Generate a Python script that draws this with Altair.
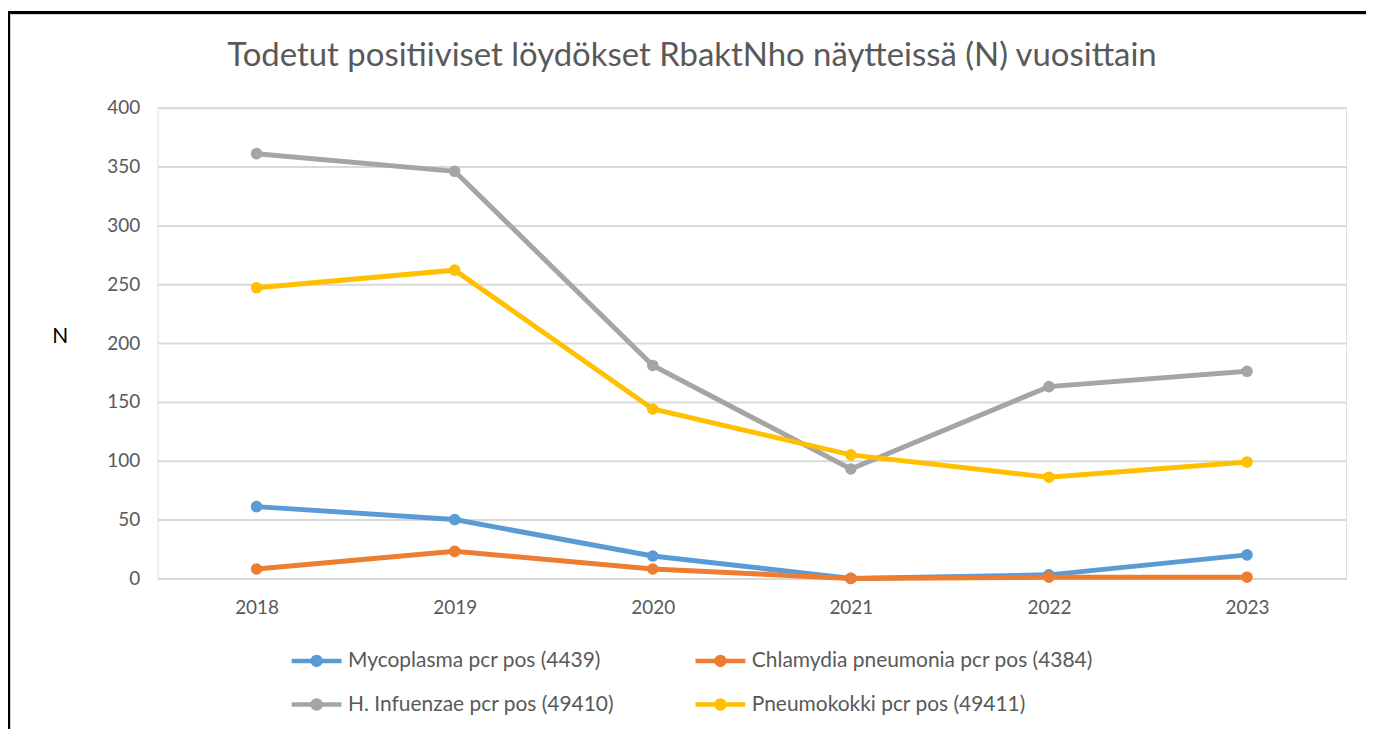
import altair as alt
import pandas as pd

years = ["2018", "2019", "2020", "2021", "2022", "2023"]
series_names = [
    "Mycoplasma pcr pos (4439)",
    "Chlamydia pneumonia pcr pos (4384)",
    "H. Infuenzae pcr pos (49410)",
    "Pneumokokki pcr pos (49411)",
]
mycoplasma = [61, 50, 19, 0, 3, 20]
chlamydia = [8, 23, 8, 0, 1, 1]
h_influenzae = [361, 346, 181, 93, 163, 176]
pneumokokki = [247, 262, 144, 105, 86, 99]
colors = ["#5B9BD5", "#ED7D31", "#A5A5A5", "#FFC000"]

rows = []
for name, vals in zip(series_names, [mycoplasma, chlamydia, h_influenzae, pneumokokki]):
    for y, v in zip(years, vals):
        rows.append({"Vuosi": y, "Sarja": name, "N": v})
df = pd.DataFrame(rows)

FONT = "Lato"
W, H = 1192, 472

legend_symbol = ("M-5,0L5,0"
                 "M-0.8,0A0.8,0.8 0 1,0 0.8,0A0.8,0.8 0 1,0 -0.8,0"
                 "M-0.3,0A0.3,0.3 0 1,0 0.3,0A0.3,0.3 0 1,0 -0.3,0")

color = alt.Color(
    "Sarja:N",
    scale=alt.Scale(domain=series_names, range=colors),
    legend=alt.Legend(
        title=None,
        orient="none",
        direction="horizontal",
        legendX=149,
        legendY=544,
        columns=2,
        columnPadding=72,
        rowPadding=17,
        symbolType=legend_symbol,
        symbolSize=100,
        symbolStrokeWidth=4.5,
        labelOffset=21,
        labelLimit=600,
        labelFont=FONT,
        labelFontSize=21,
        labelColor="#595959",
        padding=0,
    ),
)

x = alt.X(
    "Vuosi:O",
    sort=years,
    title=None,
    scale=alt.Scale(type="point", padding=0.5),
    axis=alt.Axis(
        labelAngle=0, labelFont=FONT, labelFontSize=19, labelColor="#595959",
        labelPadding=20, ticks=False, domainColor="#d9d9d9", domainWidth=2,
        grid=False,
    ),
)
y = alt.Y(
    "N:Q",
    scale=alt.Scale(domain=[0, 400]),
    axis=alt.Axis(
        values=list(range(0, 401, 50)), labelFont=FONT, labelFontSize=19,
        labelColor="#595959", labelPadding=18, ticks=False, domain=False,
        gridColor="#d9d9d9", gridWidth=2,
        title="N", titleAngle=0, titleFont=FONT, titleFontSize=21,
        titleFontWeight="normal", titleColor="#000000",
        titleX=-98, titleY=229, titleAlign="center", titleBaseline="middle",
    ),
)

base = alt.Chart(df)
lines = base.mark_line(strokeWidth=5).encode(x=x, y=y, color=color)
points = base.mark_circle(size=135, opacity=1).encode(x=x, y=y, color=color)

frame = alt.Chart(pd.DataFrame({"k": [0]})).mark_rect(
    fill=None, stroke="#000000", strokeWidth=3, clip=False
).encode(
    x=alt.value(-149.5), x2=alt.value(W + 40),
    y=alt.value(-95.5), y2=alt.value(H + 170),
)
inner = alt.Chart(pd.DataFrame({"k": [0]})).mark_rect(
    fill=None, stroke="#d0d0d0", strokeWidth=1, clip=False
).encode(
    x=alt.value(-147.5), x2=alt.value(W + 38),
    y=alt.value(-93.5), y2=alt.value(H + 168),
)

chart = alt.layer(frame, inner, lines, points).properties(
    width=W,
    height=H,
    title=alt.TitleParams(
        "Todetut positiiviset löydökset RbaktNho näytteissä (N) vuosittain",
        font=FONT, fontSize=33, fontWeight="normal", color="#595959",
        anchor="middle", frame="group", dx=-60, offset=-62,
    ),
    autosize=alt.AutoSizeParams(type="none"),
    padding={"left": 150, "top": 99, "right": 20, "bottom": 160},
).configure_view(stroke=None).configure(background="#ffffff")

chart.save("out.html", embed_options={"renderer": "svg", "actions": False})
